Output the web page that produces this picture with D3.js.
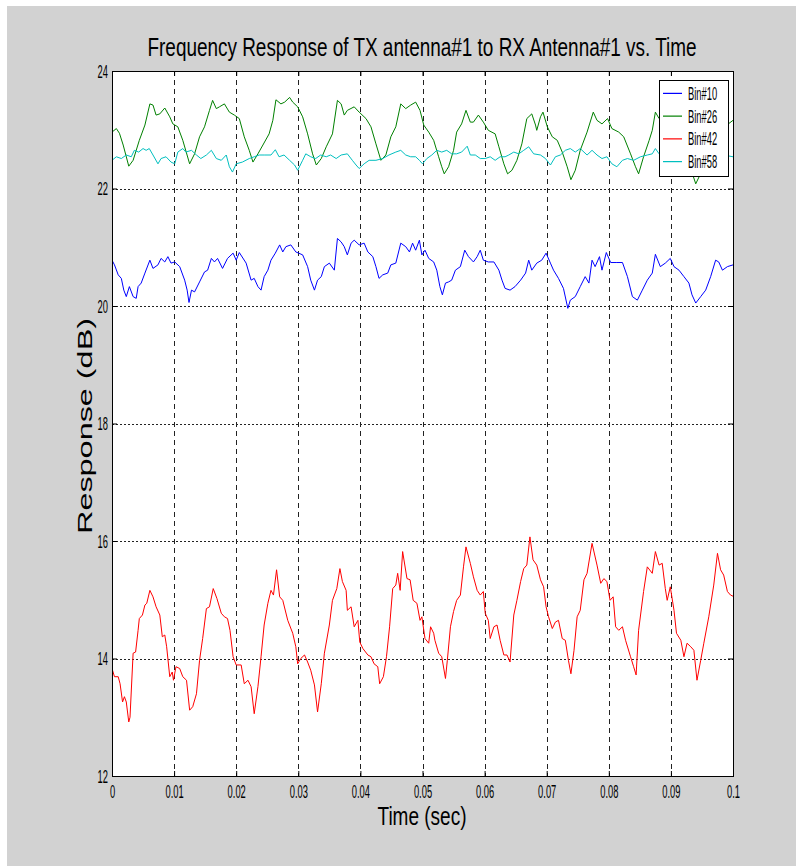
<!DOCTYPE html>
<html><head><meta charset="utf-8">
<script src="https://cdn.jsdelivr.net/npm/d3@7"></script>
<style>body{margin:0;background:#fff}svg{display:block}</style>
</head><body><svg id="c" width="796" height="866"></svg>
<script>
// ---- data (time in sec, response in dB) ----
const bin10 = [[0,20.78],[0.0004,20.70],[0.0010,20.53],[0.0015,20.47],[0.0019,20.27],[0.0023,20.16],[0.0028,20.33],[0.0034,20.16],[0.0039,20.13],[0.0042,20.33],[0.0047,20.39],[0.0053,20.56],[0.0061,20.78],[0.0066,20.64],[0.0074,20.70],[0.0079,20.81],[0.0085,20.75],[0.0090,20.84],[0.0095,20.73],[0.0101,20.75],[0.0109,20.67],[0.0117,20.44],[0.0121,20.27],[0.0124,20.06],[0.0128,20.27],[0.0133,20.24],[0.0141,20.41],[0.0149,20.58],[0.0154,20.61],[0.0160,20.81],[0.0165,20.75],[0.0170,20.81],[0.0178,20.64],[0.0186,20.81],[0.0195,20.90],[0.0200,20.78],[0.0205,20.91],[0.0216,20.73],[0.0224,20.44],[0.0229,20.47],[0.0235,20.33],[0.0240,20.27],[0.0245,20.50],[0.0251,20.61],[0.0256,20.78],[0.0263,20.90],[0.0270,21.04],[0.0275,20.92],[0.0280,21.01],[0.0288,21.04],[0.0296,20.92],[0.0307,20.87],[0.0315,20.67],[0.0320,20.44],[0.0326,20.27],[0.0331,20.44],[0.0337,20.50],[0.0342,20.67],[0.0350,20.73],[0.0358,20.61],[0.0363,21.15],[0.0369,21.09],[0.0374,21.01],[0.0379,20.87],[0.0385,21.07],[0.0390,21.12],[0.0398,21.04],[0.0406,21.07],[0.0412,20.92],[0.0420,20.84],[0.0425,20.67],[0.0430,20.47],[0.0436,20.53],[0.0444,20.56],[0.0449,20.70],[0.0457,20.73],[0.0465,21.07],[0.0473,21.01],[0.0479,20.92],[0.0484,21.07],[0.0489,20.95],[0.0495,21.12],[0.0499,20.87],[0.0504,20.95],[0.0510,20.81],[0.0518,20.75],[0.0523,20.61],[0.0528,20.33],[0.0532,20.19],[0.0537,20.39],[0.0542,20.41],[0.0547,20.44],[0.0553,20.61],[0.0561,20.67],[0.0568,20.95],[0.0574,20.84],[0.0582,20.75],[0.0588,20.84],[0.0593,20.95],[0.0598,20.78],[0.0606,20.75],[0.0615,20.75],[0.0623,20.61],[0.0628,20.44],[0.0633,20.30],[0.0641,20.27],[0.0649,20.33],[0.0658,20.44],[0.0666,20.56],[0.0671,20.78],[0.0676,20.61],[0.0684,20.73],[0.0692,20.78],[0.0699,20.90],[0.0706,20.73],[0.0711,20.61],[0.0719,20.47],[0.0727,20.30],[0.0734,19.96],[0.0738,20.10],[0.0746,20.16],[0.0754,20.33],[0.0762,20.50],[0.0768,20.39],[0.0773,20.78],[0.0778,20.67],[0.0785,20.84],[0.0789,20.61],[0.0796,20.91],[0.0803,20.74],[0.0813,20.74],[0.0822,20.74],[0.0830,20.50],[0.0838,20.16],[0.0846,20.10],[0.0854,20.27],[0.0862,20.44],[0.0870,20.56],[0.0875,20.88],[0.0883,20.67],[0.0891,20.73],[0.0899,20.81],[0.0905,20.67],[0.0913,20.61],[0.0921,20.50],[0.0929,20.39],[0.0934,20.19],[0.0940,20.05],[0.0948,20.16],[0.0956,20.27],[0.0964,20.50],[0.0972,20.78],[0.0977,20.75],[0.0983,20.61],[0.0991,20.67],[0.1000,20.70]];

const bin26 = [[0,22.96],[0.0007,23.02],[0.0012,22.94],[0.0018,22.74],[0.0027,22.38],[0.0034,22.48],[0.0044,22.82],[0.0053,23.08],[0.0061,23.44],[0.0066,23.42],[0.0071,23.25],[0.0077,23.27],[0.0085,23.37],[0.0093,23.22],[0.0098,23.10],[0.0106,23.05],[0.0114,22.82],[0.0125,22.42],[0.0133,22.59],[0.0141,22.88],[0.0149,23.05],[0.0157,23.33],[0.0162,23.50],[0.0168,23.36],[0.0173,23.39],[0.0181,23.44],[0.0189,23.30],[0.0197,23.25],[0.0205,23.19],[0.0213,22.88],[0.0221,22.65],[0.0227,22.45],[0.0235,22.59],[0.0243,22.74],[0.0253,22.93],[0.0259,23.16],[0.0264,23.51],[0.0272,23.44],[0.0278,23.47],[0.0286,23.55],[0.0291,23.47],[0.0299,23.39],[0.0307,23.22],[0.0315,22.93],[0.0323,22.59],[0.0329,22.40],[0.0337,22.51],[0.0345,22.71],[0.0355,22.93],[0.0363,23.50],[0.0369,23.44],[0.0374,23.25],[0.0379,23.33],[0.0390,23.39],[0.0398,23.30],[0.0409,23.19],[0.0417,23.05],[0.0425,22.76],[0.0433,22.48],[0.0441,22.57],[0.0449,22.88],[0.0457,23.05],[0.0465,23.44],[0.0473,23.36],[0.0481,23.42],[0.0489,23.47],[0.0496,23.33],[0.0502,23.08],[0.0510,22.96],[0.0518,22.82],[0.0526,22.54],[0.0531,22.37],[0.0535,22.25],[0.0542,22.37],[0.0550,22.65],[0.0555,22.96],[0.0563,23.10],[0.0570,23.33],[0.0577,23.13],[0.0582,23.13],[0.0590,23.25],[0.0598,23.13],[0.0606,22.99],[0.0617,22.93],[0.0623,22.71],[0.0631,22.42],[0.0637,22.25],[0.0644,22.31],[0.0652,22.48],[0.0660,22.76],[0.0668,23.19],[0.0676,23.27],[0.0682,23.08],[0.0684,22.99],[0.0690,23.22],[0.0694,23.30],[0.0701,23.05],[0.0709,22.88],[0.0717,22.82],[0.0725,22.62],[0.0733,22.37],[0.0739,22.15],[0.0746,22.31],[0.0754,22.65],[0.0765,22.96],[0.0775,23.30],[0.0781,23.16],[0.0789,23.10],[0.0798,23.19],[0.0805,23.02],[0.0816,22.96],[0.0824,22.88],[0.0835,22.59],[0.0843,22.37],[0.0848,22.25],[0.0856,22.54],[0.0865,22.82],[0.0870,22.99],[0.0875,23.30],[0.0881,23.19],[0.0890,23.15],[0.0900,23.10],[0.0910,22.95],[0.0920,22.70],[0.0930,22.40],[0.0940,22.08],[0.0950,22.30],[0.0960,22.60],[0.0970,22.85],[0.0980,23.00],[0.1000,23.16]];

const bin42 = [[0,13.83],[0.0004,13.69],[0.0010,13.69],[0.0013,13.57],[0.0017,13.26],[0.0020,13.35],[0.0023,13.26],[0.0027,12.92],[0.0029,13.00],[0.0034,14.09],[0.0038,14.11],[0.0042,14.48],[0.0044,14.68],[0.0049,14.74],[0.0053,14.91],[0.0056,14.94],[0.0061,15.16],[0.0066,15.05],[0.0071,14.88],[0.0077,14.74],[0.0081,14.37],[0.0085,14.40],[0.0088,14.20],[0.0093,13.69],[0.0097,13.77],[0.0099,13.63],[0.0103,13.86],[0.0109,13.83],[0.0114,13.69],[0.0120,13.63],[0.0125,13.12],[0.0130,13.18],[0.0136,13.40],[0.0141,13.97],[0.0146,14.34],[0.0152,14.85],[0.0157,14.88],[0.0163,15.19],[0.0169,15.02],[0.0176,14.77],[0.0181,14.71],[0.0186,14.68],[0.0190,14.48],[0.0195,14.03],[0.0200,13.89],[0.0208,13.89],[0.0213,13.57],[0.0219,13.63],[0.0224,13.52],[0.0229,13.06],[0.0235,13.52],[0.0240,14.03],[0.0245,14.57],[0.0251,14.94],[0.0256,15.16],[0.0260,15.08],[0.0265,15.51],[0.0270,15.05],[0.0275,14.99],[0.0283,14.65],[0.0291,14.43],[0.0296,14.20],[0.0299,13.91],[0.0304,14.00],[0.0310,14.06],[0.0315,13.94],[0.0320,13.80],[0.0326,13.55],[0.0331,13.09],[0.0337,13.57],[0.0342,14.09],[0.0350,14.57],[0.0355,14.99],[0.0362,15.19],[0.0367,15.53],[0.0371,15.31],[0.0377,15.16],[0.0379,14.82],[0.0385,14.88],[0.0390,14.54],[0.0396,14.65],[0.0399,14.28],[0.0404,14.17],[0.0412,14.06],[0.0417,14.03],[0.0422,13.91],[0.0428,13.86],[0.0431,13.57],[0.0437,13.69],[0.0442,14.03],[0.0447,14.54],[0.0452,15.19],[0.0457,15.25],[0.0460,15.45],[0.0464,15.16],[0.0468,15.82],[0.0475,15.36],[0.0480,15.34],[0.0485,14.99],[0.0491,14.94],[0.0496,14.65],[0.0499,14.71],[0.0504,14.34],[0.0510,14.26],[0.0513,14.54],[0.0518,14.43],[0.0520,14.31],[0.0526,14.09],[0.0531,14.03],[0.0537,13.66],[0.0540,13.97],[0.0545,14.54],[0.0550,14.80],[0.0555,14.99],[0.0561,15.08],[0.0566,15.56],[0.0570,15.90],[0.0577,15.62],[0.0582,15.39],[0.0588,15.16],[0.0593,15.08],[0.0598,15.14],[0.0601,14.77],[0.0606,14.65],[0.0609,14.34],[0.0615,14.54],[0.0620,14.57],[0.0625,14.31],[0.0631,14.06],[0.0636,14.06],[0.0641,13.94],[0.0647,14.74],[0.0652,14.99],[0.0658,15.31],[0.0663,15.53],[0.0668,15.59],[0.0673,16.07],[0.0678,15.68],[0.0684,15.59],[0.0690,15.34],[0.0695,15.22],[0.0699,14.88],[0.0703,14.71],[0.0709,14.51],[0.0714,14.62],[0.0719,14.65],[0.0725,14.34],[0.0730,14.31],[0.0735,13.97],[0.0739,13.74],[0.0744,14.14],[0.0749,14.71],[0.0754,14.82],[0.0760,15.34],[0.0765,15.45],[0.0773,15.96],[0.0781,15.59],[0.0787,15.28],[0.0792,15.36],[0.0797,15.31],[0.0802,14.99],[0.0807,15.05],[0.0811,14.54],[0.0816,14.48],[0.0822,14.54],[0.0827,14.31],[0.0835,14.03],[0.0840,13.86],[0.0844,13.72],[0.0848,14.48],[0.0856,15.14],[0.0862,15.56],[0.0870,15.45],[0.0875,15.82],[0.0881,15.59],[0.0886,15.62],[0.0891,15.19],[0.0894,14.99],[0.0899,15.22],[0.0905,14.82],[0.0909,14.43],[0.0916,14.31],[0.0921,14.03],[0.0926,14.26],[0.0932,14.20],[0.0937,14.14],[0.0942,13.63],[0.0948,13.97],[0.0953,14.26],[0.0961,14.71],[0.0969,15.25],[0.0975,15.79],[0.0980,15.51],[0.0985,15.42],[0.0991,15.14],[0.0996,15.08],[0.1000,15.06]];

const bin58 = [[0,22.48],[0.0007,22.54],[0.0015,22.51],[0.0023,22.57],[0.0031,22.54],[0.0036,22.65],[0.0043,22.62],[0.0050,22.68],[0.0055,22.65],[0.0060,22.68],[0.0066,22.57],[0.0074,22.42],[0.0079,22.51],[0.0087,22.54],[0.0095,22.45],[0.0101,22.42],[0.0106,22.62],[0.0114,22.68],[0.0119,22.62],[0.0128,22.65],[0.0136,22.57],[0.0143,22.51],[0.0152,22.57],[0.0160,22.65],[0.0168,22.51],[0.0176,22.48],[0.0184,22.57],[0.0189,22.37],[0.0194,22.28],[0.0200,22.42],[0.0210,22.45],[0.0221,22.51],[0.0229,22.54],[0.0237,22.57],[0.0245,22.57],[0.0256,22.57],[0.0263,22.66],[0.0269,22.54],[0.0277,22.57],[0.0286,22.48],[0.0294,22.40],[0.0299,22.31],[0.0307,22.48],[0.0312,22.59],[0.0320,22.54],[0.0328,22.51],[0.0336,22.57],[0.0345,22.54],[0.0352,22.57],[0.0361,22.51],[0.0369,22.57],[0.0379,22.59],[0.0387,22.48],[0.0393,22.40],[0.0398,22.34],[0.0406,22.42],[0.0414,22.48],[0.0425,22.48],[0.0436,22.51],[0.0446,22.57],[0.0457,22.62],[0.0465,22.65],[0.0473,22.57],[0.0481,22.54],[0.0489,22.54],[0.0495,22.48],[0.0500,22.42],[0.0507,22.51],[0.0515,22.57],[0.0523,22.65],[0.0531,22.62],[0.0539,22.65],[0.0547,22.59],[0.0555,22.59],[0.0563,22.62],[0.0572,22.72],[0.0577,22.57],[0.0585,22.57],[0.0593,22.51],[0.0601,22.51],[0.0609,22.54],[0.0617,22.48],[0.0625,22.54],[0.0633,22.54],[0.0639,22.57],[0.0647,22.62],[0.0655,22.59],[0.0663,22.65],[0.0671,22.71],[0.0679,22.59],[0.0690,22.57],[0.0698,22.51],[0.0706,22.40],[0.0714,22.54],[0.0722,22.57],[0.0730,22.65],[0.0738,22.68],[0.0746,22.62],[0.0754,22.68],[0.0765,22.57],[0.0773,22.65],[0.0781,22.57],[0.0789,22.51],[0.0797,22.54],[0.0805,22.42],[0.0813,22.37],[0.0822,22.48],[0.0830,22.51],[0.0840,22.48],[0.0851,22.54],[0.0862,22.57],[0.0870,22.59],[0.0875,22.68],[0.0881,22.59],[0.0890,22.52],[0.0900,22.45],[0.0910,22.50],[0.0920,22.56],[0.0930,22.60],[0.0940,22.52],[0.0950,22.58],[0.0960,22.62],[0.0970,22.55],[0.0980,22.50],[0.0990,22.56],[0.1000,22.54]];

const seriesNames = ["Bin#10", "Bin#26", "Bin#42", "Bin#58"];
const seriesColors = ["#0000ff", "#008000", "#ff0000", "#00bfbf"];
const xTicks = [0, 0.01, 0.02, 0.03, 0.04, 0.05, 0.06, 0.07, 0.08, 0.09, 0.1];
const xTickLabels = ["0", "0.01", "0.02", "0.03", "0.04", "0.05", "0.06", "0.07", "0.08", "0.09", "0.1"];
const yTicks = [12, 14, 16, 18, 20, 22, 24];
const titleText = "Frequency Response of TX antenna#1 to RX Antenna#1 vs. Time";
const xLabel = "Time (sec)";
const yLabel = "Response (dB)";

// ---- drawing ----
const series = [bin10, bin26, bin42, bin58];
const svg = d3.select("#c");
const FONT = "'Liberation Sans', Arial, sans-serif";
const L = 112, R = 733, T = 71, B = 776;
const SQ = 0.52; // horizontal squeeze of tick fonts

svg.append("rect").attr("x", 7).attr("y", 6).attr("width", 789).attr("height", 860).attr("fill", "#d2d2d2");

const x = d3.scaleLinear().domain([0, 0.1]).range([L, R]);
const y = d3.scaleLinear().domain([12, 24]).range([B, T]);

svg.append("rect").attr("x", L).attr("y", T).attr("width", R - L).attr("height", B - T).attr("fill", "#fff");

// grid
const grid = svg.append("g");
grid.selectAll("line.vx").data(xTicks.slice(1, -1)).join("line")
  .attr("x1", d => Math.round(x(d)) + 0.5).attr("x2", d => Math.round(x(d)) + 0.5)
  .attr("y1", T).attr("y2", B)
  .attr("stroke", "#222").attr("stroke-width", 1).attr("stroke-dasharray", "5,4");
grid.selectAll("line.hy").data(yTicks.slice(1, -1)).join("line")
  .attr("y1", d => Math.round(y(d)) + 0.5).attr("y2", d => Math.round(y(d)) + 0.5)
  .attr("x1", L).attr("x2", R)
  .attr("stroke", "#222").attr("stroke-width", 1).attr("stroke-dasharray", "2,2");

// clip
svg.append("clipPath").attr("id", "clip").append("rect")
  .attr("x", L).attr("y", T).attr("width", R - L).attr("height", B - T);

const line = d3.line().x(d => x(d[0])).y(d => y(d[1]));
svg.append("g").attr("clip-path", "url(#clip)")
  .selectAll("path").data(series).join("path")
  .attr("d", line).attr("fill", "none")
  .attr("stroke", (d, i) => seriesColors[i]).attr("stroke-width", 1)
  .attr("stroke-linejoin", "round");

// axes (ticks inward)
function styleAxis(g) {
  g.select(".domain").remove();
  g.selectAll(".tick line").attr("stroke", "#000");
  g.selectAll("text").attr("font-family", FONT).attr("font-size", 18).attr("fill", "#000");
}
const ax = svg.append("g").attr("transform", `translate(0,${B})`)
  .call(d3.axisBottom(x).tickValues(xTicks).tickFormat((d, i) => xTickLabels[i]).tickSize(-5).tickPadding(22).tickSizeOuter(0))
  .call(styleAxis);
ax.selectAll("text").attr("dy", 0).attr("transform", `scale(${SQ},1)`);

const ay = svg.append("g").attr("transform", `translate(${L},0)`)
  .call(d3.axisLeft(y).tickValues(yTicks).tickFormat(d3.format("d")).tickSize(-5).tickPadding(4).tickSizeOuter(0))
  .call(styleAxis);
ay.selectAll("text").attr("x", -4 / SQ).attr("dy", "0.36em").attr("transform", `scale(${SQ},1)`);

svg.append("g").attr("transform", `translate(0,${T})`)
  .call(d3.axisTop(x).tickValues(xTicks).tickFormat("").tickSize(-5).tickSizeOuter(0)).call(styleAxis);
svg.append("g").attr("transform", `translate(${R},0)`)
  .call(d3.axisRight(y).tickValues(yTicks).tickFormat("").tickSize(-5).tickSizeOuter(0)).call(styleAxis);

// frame
svg.append("rect").attr("x", L + 0.5).attr("y", T + 0.5).attr("width", R - L).attr("height", B - T)
  .attr("fill", "none").attr("stroke", "#000").attr("stroke-width", 1);

// title & labels
svg.append("text").attr("x", 422).attr("y", 56).attr("text-anchor", "middle")
  .attr("font-family", FONT).attr("font-size", 26)
  .attr("textLength", 549).attr("lengthAdjust", "spacingAndGlyphs").text(titleText);
svg.append("text").attr("x", 422).attr("y", 825).attr("text-anchor", "middle")
  .attr("font-family", FONT).attr("font-size", 26)
  .attr("textLength", 89).attr("lengthAdjust", "spacingAndGlyphs").text(xLabel);
svg.append("text").attr("transform", "translate(92,426) rotate(-90)").attr("text-anchor", "middle")
  .attr("font-family", FONT).attr("font-size", 21)
  .attr("textLength", 216).attr("lengthAdjust", "spacingAndGlyphs").text(yLabel);

// legend
const lg = svg.append("g");
lg.append("rect").attr("x", 659.5).attr("y", 80.5).attr("width", 69).attr("height", 96)
  .attr("fill", "#fff").attr("stroke", "#000").attr("stroke-width", 1);
const rowY = d3.scaleBand().domain(seriesNames).range([81, 172]).paddingInner(0);
seriesNames.forEach((n, i) => {
  const cy = rowY(n) + rowY.bandwidth() / 2 + 1;
  lg.append("line").attr("x1", 663).attr("x2", 682).attr("y1", cy).attr("y2", cy)
    .attr("stroke", seriesColors[i]).attr("stroke-width", 1.2);
  lg.append("text").attr("transform", `translate(688,${cy}) scale(${SQ},1)`)
    .attr("dy", "0.36em").attr("font-family", FONT).attr("font-size", 18).text(n);
});
</script>
</body></html>
